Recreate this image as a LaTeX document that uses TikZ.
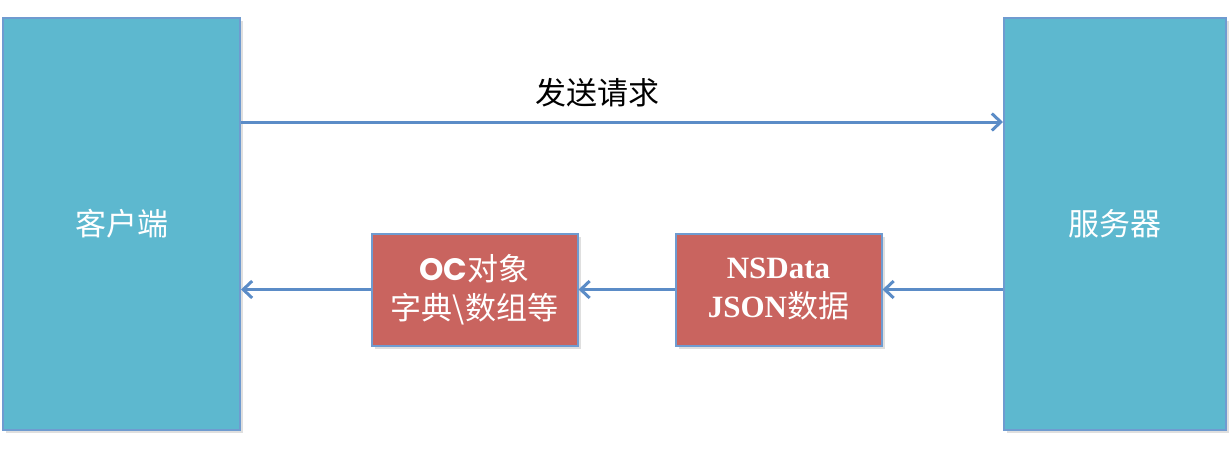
\documentclass[tikz,border=0pt]{standalone}
\usepackage{fontspec}
\usepackage{tikz}
\usetikzlibrary{arrows.meta,shadows}
\setmainfont{Liberation Serif}
\newfontfamily\cjk{Noto Sans CJK SC}
\newfontfamily\geo{Poppins}
\definecolor{tile}    {HTML}{5DB8CF}
\definecolor{tileedge}{HTML}{6F9BD0}
\definecolor{brick}   {HTML}{C9645F}
\definecolor{wire}    {HTML}{5B8CC7}
\tikzset{
  end/.style   ={draw=tileedge, fill=tile, line width=2pt,
                 align=center, text=white, inner sep=0pt,
                 font=\fontsize{31}{39}\selectfont\cjk,
                 drop shadow={opacity=0.25,shadow xshift=3pt,shadow yshift=-3pt}},
  pkt/.style   ={end, fill=brick, minimum width=206pt, minimum height=112pt},
  arr/.style   ={-{Straight Barb[length=9pt,width=17pt,line width=3pt]},
                 draw=wire, line width=3pt},
  tag/.style   ={font=\fontsize{31}{39}\selectfont\cjk, text=black},
}
\begin{document}
\begin{tikzpicture}[x=1pt,y=-1pt]
  \useasboundingbox (0,0) rectangle (1230,450);

  \node[end,minimum width=237pt,minimum height=412pt] (client) at (121.5,224) {客户端};
  \node[end,minimum width=222pt,minimum height=412pt] (server) at (1115,224) {服务器};

  \node[pkt] (oc) at (474.5,289.5)
    {{\geo\bfseries OC}对象\\字典\textbackslash 数组等};
  \node[pkt] (data) at (778.5,289.5)
    {{\rmfamily\bfseries NSData}\\{\rmfamily\bfseries JSON}数据};

  \coordinate (req) at (620,122);
  \node[tag] (send) at (597,93) {发送请求};
  \draw[arr] (client.east |- req) -- (server.west |- req);

  \draw[arr] (server.west |- data.east) -- (data.east);
  \draw[arr] (data.west) -- (oc.east);
  \draw[arr] (oc.west) -- (client.east |- oc.west);
\end{tikzpicture}
\end{document}
